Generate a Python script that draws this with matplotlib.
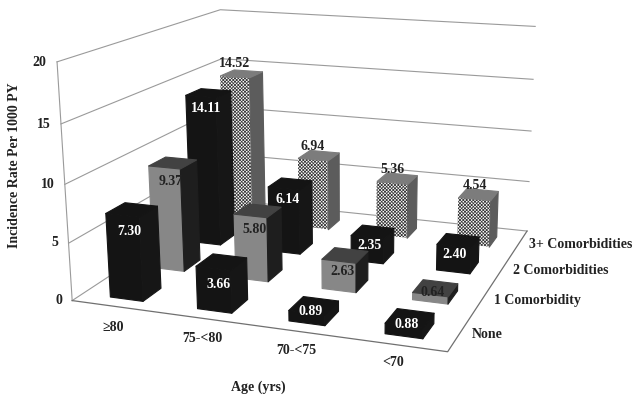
# incidence rate by age and comorbidity, 3D bars like the Excel original

import matplotlib
matplotlib.use("Agg")
import matplotlib.pyplot as plt
import numpy as np
from mpl_toolkits.mplot3d.art3d import Poly3DCollection

plt.rcParams["font.family"] = ["Liberation Serif", "DejaVu Serif"]
plt.rcParams["font.weight"] = "bold"
plt.rcParams["hatch.linewidth"] = 0.55

ages = ["\u226580", "75-<80", "70-<75", "<70"]
groups = ["None", "1 Comorbidity", "2 Comorbidities", "3+ Comorbidities"]
rate_none = [7.30, 3.66, 0.89, 0.88]
rate_one = [9.37, 5.80, 2.63, 0.64]
rate_two = [14.11, 6.14, 2.35, 2.40]
rate_three = [14.52, 6.94, 5.36, 4.54]
z_ticks = [0, 5, 10, 15, 20]

W, H = 643, 405

# box corners in data units and where they sit in the picture, to fit the camera
box_pts = np.array([[0, 0, 0], [4, 0, 0], [4, 4, 0], [0, 4, 0],
                    [0, 0, 20], [0, 4, 20], [4, 4, 20]], float)
pix_pts = np.array([[70, 301], [448, 351], [526, 232], [228, 199],
                    [59, 62], [218, 10], [536, 26]], float)


def fit_camera(box, pix):
    rows = []
    for (x, y, z), (u, v) in zip(box, pix):
        rows.append([x, y, z, 1, 0, 0, 0, 0, -u * x, -u * y, -u * z, -u])
        rows.append([0, 0, 0, 0, x, y, z, 1, -v * x, -v * y, -v * z, -v])
    return np.linalg.svd(np.array(rows))[2][-1].reshape(3, 4)


camera = fit_camera(box_pts, pix_pts)

fig = plt.figure(figsize=(W / 100, H / 100), dpi=100)
side = W / H
ax = fig.add_axes([0, (1 - side) / 2, 1, side], projection="3d", computed_zorder=False)
ax.set_axis_off()


def get_proj():
    flip = np.array([[1, 0, 0], [0, -1, H], [0, 0, 1]], float)
    view = ax.transData.inverted().get_matrix() @ flip @ camera
    return np.vstack([view[0], view[1], [0, 0, 1, 0], view[2]])


ax.get_proj = get_proj


def label(x, y, z, s, zorder=100, dy=0, **kw):
    # figure text at the projected spot, so the text keeps its real place
    u, v, w = camera @ np.array([x, y, z, 1.0])
    fig.text(u / w / W, 1 - (v / w + dy) / H, s, zorder=zorder, va="center", fontsize=10, **kw)


wall = "#9a9a9a"
for z in z_ticks:
    ax.plot([0, 0, 4], [0, 4, 4], [z, z, z], color=wall, lw=0.8, zorder=1)
    label(-0.12, 0, z, str(z), ha="right", dy=1, color="#222222")
ax.plot([0, 0], [0, 0], [0, 20], color=wall, lw=0.8, zorder=1)
ax.plot([0, 4, 4], [0, 0, 4], [0, 0, 0], color="#707070", lw=0.9, zorder=1)


def face(pts, zorder, **kw):
    ax.add_collection3d(Poly3DCollection([pts], zorder=zorder, **kw))


def draw_bar(i, j, v, front, top, right, order, hatch=None):
    x0, x1 = i + 0.31, i + 0.69
    y0, y1 = j + 0.24, j + 0.66
    if hatch:
        face([(x0, y0, 0), (x1, y0, 0), (x1, y0, v), (x0, y0, v)], order,
             facecolor="white", edgecolor="#3a3a3a", hatch=hatch, linewidth=0)
    else:
        face([(x0, y0, 0), (x1, y0, 0), (x1, y0, v), (x0, y0, v)], order,
             facecolor=front, edgecolor=front, linewidth=0.8)
    face([(x1, y0, 0), (x1, y1, 0), (x1, y1, v), (x1, y0, v)], order,
         facecolor=right, edgecolor=right, linewidth=0.8)
    face([(x0, y0, v), (x1, y0, v), (x1, y1, v), (x0, y1, v)], order,
         facecolor=top, edgecolor=top, linewidth=0.8)


styles = [
    (rate_none, "#141414", "#141414", "#161616", None, "white"),
    (rate_one, "#878787", "#424242", "#1e1e1e", None, "#222222"),
    (rate_two, "#141414", "#141414", "#161616", None, "white"),
    (rate_three, "white", "#7c7c7c", "#5c5c5c", "xxxxxxxxxx", "#222222"),
]

# the bars go on back to front and left to right, the mplot3d sorting is off
order = 10
for j in [3, 2, 1, 0]:
    rates, front, top, right, hatch, text_col = styles[j]
    for i, v in enumerate(rates):
        draw_bar(i, j, v, front, top, right, order, hatch)
        order += 1
        if hatch:
            # hatched row has its label sitting above the bar
            label(i + 0.5, j + 0.24, v + 1.3, f"{v:.2f}", ha="center", color=text_col)
        else:
            label(i + 0.48, j + 0.42, max(v - 1.9 + 0.2 * j, v * 0.45), f"{v:.2f}", ha="center", color=text_col)

for i, name in enumerate(ages):
    label(i * 0.945 + 0.77, -0.55 + 0.03 * i, 0, name, ha="center", dy=-1.5, color="#222222")
for j, name in enumerate(groups):
    label(4.12, j + 0.5, 0, name, ha="left", color="#222222")

fig.text(15 / W, 1 - 165 / H, "Incidence Rate Per 1000 PY", rotation=90, ha="center", va="center",
         fontsize=10, color="#222222")
fig.text(258 / W, 1 - 387 / H, "Age (yrs)", ha="center", va="center", fontsize=10, color="#222222")

fig.savefig("out.png", dpi=100)
